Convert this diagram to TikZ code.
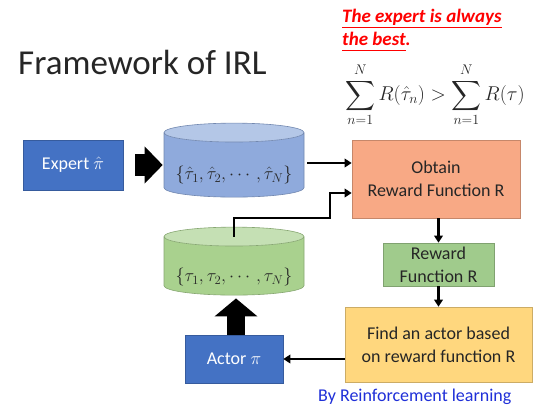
\RequirePackage{fix-cm}
\documentclass[tikz,border=0pt]{standalone}
\usepackage{amsmath}
\usepackage{fontspec}
\setmainfont{Carlito}
\usetikzlibrary{shapes.geometric, arrows.meta, calc}
\definecolor{expertblue}{HTML}{4472C4}
\definecolor{setblue}{HTML}{8FAADC}
\definecolor{setbluetop}{HTML}{B4C7E7}
\definecolor{setgreen}{HTML}{A9D18E}
\definecolor{setgreentop}{HTML}{C5E0B4}
\definecolor{obtainorange}{HTML}{F8A985}
\definecolor{rewardgreen}{HTML}{A0CB8C}
\definecolor{actoryellow}{HTML}{FFD77E}
\definecolor{claimred}{HTML}{FF0000}
\definecolor{noteblue}{HTML}{1F2FD8}
\newcommand{\claimline}[1]{\underline{#1\vphantom{p}}}
\tikzset{
  irltext/.style={font=\fontsize{18}{23}\selectfont, text=black!85,
                  align=center},
  irlbox/.style={rectangle, draw=#1!80!black, fill=#1, line width=0.6pt,
                 inner sep=2pt, irltext},
  irlactor/.style={irlbox=expertblue, text=white},
  irlset/.style 2 args={cylinder, shape border rotate=90, aspect=0.135,
                        draw=#1!80!black, line width=0.6pt,
                        cylinder uses custom fill, cylinder body fill=#1,
                        cylinder end fill=#2, minimum width=140pt,
                        inner sep=0pt},
  irlflow/.style={draw, line width=2.2pt,
                  -{Triangle[length=7pt, width=8.5pt]}},
  irlpush/.style 2 args={draw, line width=#1,
                         -{Triangle[length=18pt, width=#2]}},
  irlnote/.style={anchor=base west, inner sep=0pt}
}
\begin{document}
\begin{tikzpicture}[x=1pt, y=-1pt]
  \useasboundingbox[fill=white] (0,0) rectangle (540,407);
  \node[irlnote, font=\fontsize{35}{40}\selectfont, text=black!85]
    (title) at (18,74) {Framework of IRL};
  \node[irlnote, font=\fontsize{19}{23}\selectfont\bfseries\itshape,
        text=claimred] (claimtop) at (342,22) {\claimline{The expert is always}};
  \node[irlnote, font=\fontsize{19}{23}\selectfont\bfseries\itshape,
        text=claimred] (claimbottom) at (342,45) {\claimline{the best}.};
  \node[irltext, font=\fontsize{20}{24}\selectfont] (inequality) at (435,95)
    {$\displaystyle\sum_{n=1}^{N} R(\hat{\tau}_n) > \sum_{n=1}^{N} R(\tau)$};
  % Left column: expert, trajectories, actor.
  \node[irlactor, minimum width=100pt, minimum height=50pt]
    (expert) at (73,165) {Expert $\hat{\pi}$};
  \node[irlset={setblue}{setbluetop}, minimum height=74pt,
        label={[irltext, yshift=-10pt]center:$\{\hat{\tau}_1, \hat{\tau}_2, \cdots, \hat{\tau}_N\}$}]
    (experttraj) at (234,165) {\hspace*{140pt}};
  \node[irlset={setgreen}{setgreentop}, minimum height=68pt,
        label={[irltext, yshift=-11pt]center:$\{\tau_1, \tau_2, \cdots, \tau_N\}$}]
    (actortraj) at (234,266) {\hspace*{140pt}};
  \node[irlactor, minimum width=98pt, minimum height=48pt]
    (actor) at (234,359) {Actor $\pi$};
  % Right column: the loop.
  \node[irlbox=obtainorange, minimum width=168pt, minimum height=78pt]
    (obtain) at (436,179) {Obtain\\Reward Function R};
  \node[irlbox=rewardgreen, minimum width=111pt, minimum height=43pt]
    (reward) at (438.5,264.5) {Reward\\Function R};
  \node[irlbox=actoryellow, minimum width=187pt, minimum height=75pt]
    (findactor) at (438.5,344.5) {Find an actor based\\on reward function R};
  \node[irlnote, font=\fontsize{18}{22}\selectfont, text=noteblue]
    (byrl) at (318,401) {By Reinforcement learning};
  \draw[irlpush={22pt}{36pt}, shorten <=12pt, shorten >=1pt]
    (expert.east) -- (experttraj.west);
  \draw[irlpush={18pt}{42pt}, shorten >=3pt]
    ($(actor.north)+(2,0)$) -- ($(actortraj.bottom)+(2,0)$);
  \draw[irlflow, shorten <=3pt] ($(experttraj.east)+(0,-2)$)
    -- ($(obtain.west)+(0,-16)$);
  \draw[irlflow, shorten <=-10pt] (actortraj.top)
    |- ($(obtain.west)+(-22,39)$) |- ($(obtain.west)+(0,14)$);
  \draw[irlflow] (reward.north |- obtain.south) -- (reward.north);
  \draw[irlflow] (reward.south) -- (reward.south |- findactor.north);
  \draw[irlflow] (findactor.west |- actor.east) -- (actor.east);
\end{tikzpicture}
\end{document}
